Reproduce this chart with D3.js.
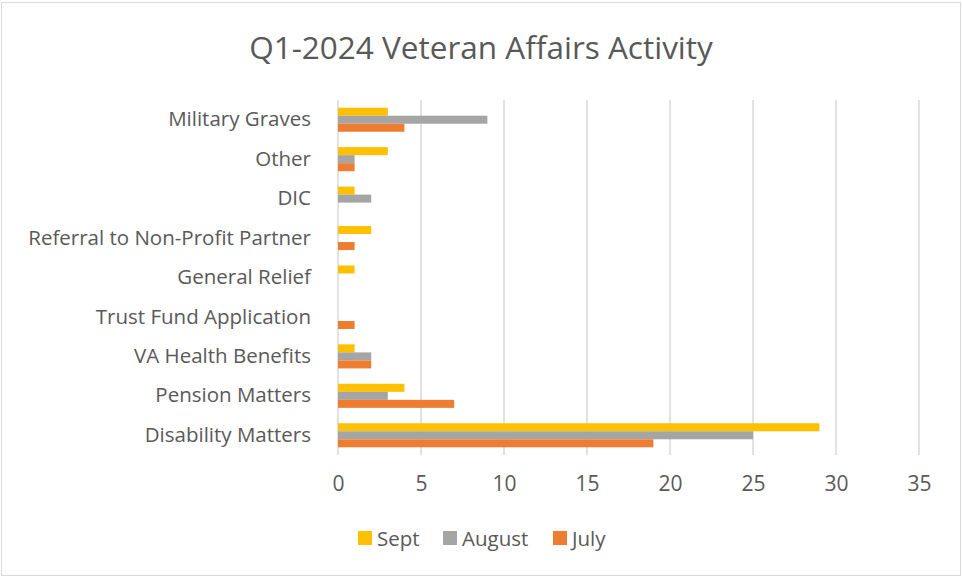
<!DOCTYPE html>
<html>
<head>
<meta charset="utf-8">
<script src="https://cdn.jsdelivr.net/npm/d3@7"></script>
<style>
    body { margin: 0; background: #fff; }
    text { font-family: "Open Sans", Lato, sans-serif; fill: #595959; }
</style>
</head>
<body>
<div id="chart"></div>
<script>

// chart data (top to bottom)
const categories = ["Military Graves", "Other", "DIC", "Referral to Non-Profit Partner", "General Relief",
    "Trust Fund Application", "VA Health Benefits", "Pension Matters", "Disability Matters"];
const seriesNames = ["Sept", "August", "July"];
const sept = [3, 3, 1, 2, 1, 0, 1, 4, 29];
const august = [9, 1, 2, 0, 0, 0, 2, 3, 25];
const july = [4, 1, 0, 1, 0, 1, 2, 7, 19];
const xTicks = [0, 5, 10, 15, 20, 25, 30, 35];
const colors = ["#FFC000", "#A5A5A5", "#ED7D31"];

const W = 962, H = 577;
const margin = {top: 100, right: 43, bottom: 122, left: 338};
const width = W - margin.left - margin.right;
const height = H - margin.top - margin.bottom;

const svg = d3.select("#chart").append("svg")
    .attr("width", W)
    .attr("height", H);

// outer border
svg.append("rect")
    .attr("x", 1.5).attr("y", 2.5)
    .attr("width", W - 3).attr("height", H - 4)
    .attr("fill", "none")
    .attr("stroke", "#d9d9d9");

// title
svg.append("text")
    .text("Q1-2024 Veteran Affairs Activity")
    .attr("x", 481).attr("y", 59)
    .attr("text-anchor", "middle")
    .style("font-size", "31.5px");

const g = svg.append("g")
    .attr("transform", `translate(${margin.left},${margin.top})`);

// scales
const x = d3.scaleLinear().domain([0, 35]).range([0, width]);
const y = d3.scaleBand().domain(categories).range([0, height]).paddingInner(0.39).paddingOuter(0.195);
const ySub = d3.scaleBand().domain(seriesNames).range([0, y.bandwidth()]);

// gridlines
g.append("g")
    .selectAll("line")
    .data(xTicks)
    .join("line")
    .attr("x1", d => x(d)).attr("x2", d => x(d))
    .attr("y1", 0).attr("y2", height)
    .attr("stroke", "#d9d9d9")
    .attr("stroke-width", 1.5);

// x axis labels
const xAxis = d3.axisBottom(x).tickValues(xTicks).tickSize(0).tickPadding(21);
g.append("g")
    .attr("transform", `translate(0,${height})`)
    .call(xAxis)
    .call(a => a.select(".domain").remove())
    .selectAll("text")
    .style("font-size", "21px")
    .attr("fill", "#595959");

// y axis labels
const yAxis = d3.axisLeft(y).tickSize(0).tickPadding(27);
g.append("g")
    .call(yAxis)
    .call(a => a.select(".domain").remove())
    .selectAll("text")
    .style("font-size", "20.5px")
    .attr("fill", "#595959");

// bars
const table = categories.map((c, i) => ({
    category: c,
    values: [sept[i], august[i], july[i]].map((v, j) => ({series: seriesNames[j], value: v, color: colors[j]}))
}));

g.selectAll(".group")
    .data(table)
    .join("g")
    .attr("class", "group")
    .attr("transform", d => `translate(0,${y(d.category)})`)
    .selectAll("rect")
    .data(d => d.values)
    .join("rect")
    .attr("x", x(0))
    .attr("y", d => ySub(d.series))
    .attr("width", d => x(d.value) - x(0))
    .attr("height", ySub.bandwidth())
    .attr("fill", d => d.color);

// legend
const legendX = [358, 443, 553];
const legend = svg.append("g")
    .selectAll("g")
    .data(seriesNames)
    .join("g")
    .attr("transform", (d, i) => `translate(${legendX[i]},531)`);

legend.append("rect")
    .attr("width", 14).attr("height", 14)
    .attr("fill", (d, i) => colors[i]);

legend.append("text")
    .text(d => d)
    .attr("x", 19).attr("y", 15)
    .style("font-size", "20.5px");

</script>
</body>
</html>
